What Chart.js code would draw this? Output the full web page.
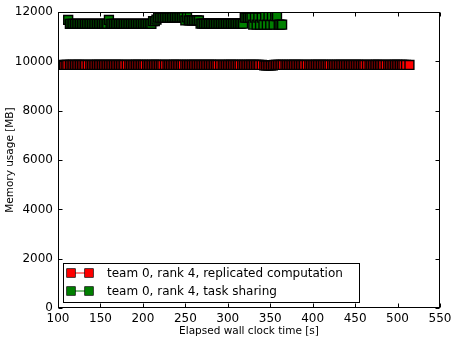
<!DOCTYPE html>
<html>
<head>
<meta charset="utf-8">
<script src="https://cdn.jsdelivr.net/npm/chart.js@4/dist/chart.umd.min.js"></script>
<style>
  html, body { margin: 0; padding: 0; background: #fff; }
</style>
</head>
<body>
<canvas id="chart" width="457" height="343"></canvas>
<script>
// x ticks / y ticks
const xTicks = [100, 150, 200, 250, 300, 350, 400, 450, 500, 550];
const yTicks = [0, 2000, 4000, 6000, 8000, 10000, 12000];

const seriesLabels = [
  "team 0, rank 4, replicated computation",
  "team 0, rank 4, task sharing",
];

// replicated computation: elapsed time [s]
const redTime = [
  107, 109, 111, 114, 116, 118, 120, 122, 124, 126, 128, 130, 132, 135, 138, 140, 142, 144, 146, 148,
  150, 152, 154, 156, 158, 160, 162, 164, 166, 168, 170, 172, 174, 176, 178, 181, 184, 186, 188, 190,
  192, 194, 196, 198, 200, 202, 205, 207, 209, 211, 213, 215, 217, 219, 221, 223, 226, 229, 231, 233,
  235, 237, 239, 241, 243, 245, 247, 250, 252, 254, 256, 258, 260, 262, 264, 266, 268, 270, 272, 274,
  276, 278, 280, 282, 284, 286, 288, 291, 294, 296, 298, 300, 302, 304, 306, 308, 310, 312, 314, 317,
  319, 321, 323, 325, 327, 329, 331, 333, 335, 337, 340, 343, 345, 347, 349, 351, 353, 355, 357, 359,
  361, 363, 365, 368, 370, 372, 374, 376, 378, 380, 382, 384, 386, 388, 390, 393, 396, 398, 400, 402,
  404, 406, 408, 410, 412, 414, 416, 418, 420, 423, 425, 427, 429, 431, 433, 435, 437, 439, 441, 443,
  445, 447, 449, 451, 453, 455, 457, 459, 461, 464, 467, 469, 471, 473, 475, 477, 479, 481, 483, 486,
  489, 491, 493, 495, 497, 499, 501, 503, 505, 507, 510, 514,
];
// replicated computation: memory [MB]
const redMem = [
  9860, 9860, 9860, 9860, 9860, 9860, 9860, 9860, 9860, 9860, 9860, 9860, 9860, 9860, 9860, 9860, 9860, 9860, 9860, 9860,
  9860, 9860, 9860, 9860, 9860, 9860, 9860, 9860, 9860, 9860, 9860, 9860, 9860, 9860, 9860, 9860, 9860, 9860, 9860, 9860,
  9860, 9860, 9860, 9860, 9860, 9860, 9860, 9860, 9860, 9860, 9860, 9860, 9860, 9860, 9860, 9860, 9860, 9860, 9860, 9860,
  9860, 9860, 9860, 9860, 9860, 9860, 9860, 9860, 9860, 9860, 9860, 9860, 9860, 9860, 9860, 9860, 9860, 9860, 9860, 9860,
  9860, 9860, 9860, 9860, 9860, 9860, 9860, 9860, 9860, 9860, 9860, 9860, 9860, 9860, 9860, 9860, 9860, 9860, 9860, 9860,
  9860, 9860, 9860, 9860, 9860, 9860, 9860, 9860, 9860, 9860, 9860, 9840, 9840, 9840, 9840, 9840, 9840, 9860, 9860, 9860,
  9860, 9860, 9860, 9860, 9860, 9860, 9860, 9860, 9860, 9860, 9860, 9860, 9860, 9860, 9860, 9860, 9860, 9860, 9860, 9860,
  9860, 9860, 9860, 9860, 9860, 9860, 9860, 9860, 9860, 9860, 9860, 9860, 9860, 9860, 9860, 9860, 9860, 9860, 9860, 9860,
  9860, 9860, 9860, 9860, 9860, 9860, 9860, 9860, 9860, 9860, 9860, 9860, 9860, 9860, 9860, 9860, 9860, 9860, 9860, 9860,
  9860, 9860, 9860, 9860, 9860, 9860, 9860, 9860, 9860, 9860, 9860, 9860,
];

// task sharing: elapsed time [s]
const greenTime = [
  112, 114, 116, 118, 120, 122, 124, 126, 128, 130, 132, 134, 136, 138, 140, 142, 144, 146, 148, 150,
  152, 154, 156, 158, 160, 162, 164, 166, 168, 170, 172, 174, 176, 178, 180, 182, 184, 186, 188, 190,
  192, 194, 196, 198, 200, 202, 204, 206, 208, 210, 212, 214, 216, 218, 220, 222, 224, 226, 228, 230,
  232, 234, 236, 238, 240, 242, 244, 246, 248, 250, 252, 254, 256, 258, 260, 262, 264, 266, 268, 270,
  272, 274, 276, 278, 280, 282, 284, 286, 288, 290, 292, 294, 296, 298, 300, 302, 304, 306, 308, 310,
  312, 314, 316, 318, 320, 322, 324, 326, 328, 330, 332, 334, 336, 338, 340, 342, 344, 346, 348, 350,
  352, 354, 356, 358, 360, 362, 364,
];
// task sharing: memory [MB]
const greenMem = [
  11685, 11527, 11527, 11527, 11527, 11527, 11527, 11527, 11527, 11527, 11527, 11527, 11527, 11527, 11527, 11527, 11527, 11527, 11527, 11527,
  11527, 11527, 11527, 11527, 11685, 11527, 11527, 11527, 11527, 11527, 11527, 11527, 11527, 11527, 11527, 11527, 11527, 11527, 11527, 11527,
  11527, 11527, 11527, 11527, 11527, 11527, 11527, 11527, 11527, 11527, 11636, 11636, 11700, 11780, 11780, 11780, 11780, 11780, 11780, 11780,
  11780, 11780, 11790, 11790, 11790, 11790, 11790, 11790, 11790, 11665, 11790, 11665, 11665, 11665, 11665, 11665, 11665, 11665, 11535, 11535,
  11535, 11535, 11535, 11535, 11535, 11535, 11535, 11535, 11535, 11535, 11535, 11535, 11535, 11535, 11535, 11535, 11535, 11535, 11535, 11535,
  11535, 11535, 11535, 11535, 11780, 11780, 11780, 11780, 11780, 11495, 11780, 11495, 11780, 11495, 11780, 11495, 11838, 11495, 11838, 11495,
  11838, 11495, 11838, 11838, 11495, 11495, 11495,
];

const FONT = "'DejaVu Sans', sans-serif";
const tickLen = 4;

const toPoints = (xs, ys) => xs.map((x, i) => ({ x: x, y: ys[i] }));

// inward ticks on all four sides + black frame
const framePlugin = {
  id: "frame",
  afterDatasetsDraw(chart) {
    const { ctx, chartArea: a, scales } = chart;
    const l = Math.round(a.left) + 0.5;
    const r = Math.round(a.right) - 0.5;
    const t = Math.round(a.top) + 0.5;
    const b = Math.round(a.bottom) - 0.5;
    ctx.save();
    ctx.strokeStyle = "#000";
    ctx.lineWidth = 1;
    ctx.beginPath();
    xTicks.forEach((v) => {
      const px = Math.round(scales.x.getPixelForValue(v)) + 0.5;
      ctx.moveTo(px, b);
      ctx.lineTo(px, b - tickLen);
      ctx.moveTo(px, t);
      ctx.lineTo(px, t + tickLen);
    });
    yTicks.forEach((v) => {
      const py = Math.round(scales.y.getPixelForValue(v)) + 0.5;
      ctx.moveTo(l, py);
      ctx.lineTo(l + tickLen, py);
      ctx.moveTo(r, py);
      ctx.lineTo(r - tickLen, py);
    });
    ctx.stroke();
    ctx.strokeRect(l, t, r - l, b - t);
    ctx.restore();
  },
};

// legend box, lower left inside the axes
const legendPlugin = {
  id: "boxLegend",
  afterDraw(chart) {
    const { ctx } = chart;
    const box = { x: 63.5, y: 263.5, w: 296, h: 39 };
    ctx.save();
    ctx.fillStyle = "#fff";
    ctx.fillRect(box.x, box.y, box.w, box.h);
    ctx.strokeStyle = "#000";
    ctx.lineWidth = 1;
    ctx.strokeRect(box.x, box.y, box.w, box.h);
    chart.data.datasets.forEach((ds, i) => {
      const cy = 273 + i * 18;
      ctx.strokeStyle = ds.borderColor;
      ctx.lineWidth = 1;
      ctx.beginPath();
      ctx.moveTo(71, cy);
      ctx.lineTo(89, cy);
      ctx.stroke();
      [71, 89].forEach((cx) => {
        ctx.fillStyle = ds.pointBackgroundColor;
        ctx.fillRect(cx - 4.3, cy - 4.3, 8.6, 8.6);
        ctx.strokeStyle = "#000";
        ctx.lineWidth = 0.7;
        ctx.strokeRect(cx - 4.3, cy - 4.3, 8.6, 8.6);
      });
      ctx.fillStyle = "#000";
      ctx.font = "12px " + FONT;
      ctx.textBaseline = "middle";
      ctx.textAlign = "left";
      ctx.fillText(ds.label, 107, cy + 0.5);
    });
    ctx.restore();
  },
};

new Chart(document.getElementById("chart"), {
  type: "scatter",
  data: {
    datasets: [
      {
        label: seriesLabels[0],
        data: toPoints(redTime, redMem),
        showLine: true,
        borderColor: "#ff0000",
        borderWidth: 1,
        pointStyle: "rect",
        pointRadius: 6.3,
        pointBackgroundColor: "#ff0000",
        pointBorderColor: "#000",
        pointBorderWidth: 1.4,
      },
      {
        label: seriesLabels[1],
        data: toPoints(greenTime, greenMem),
        showLine: true,
        borderColor: "#008000",
        borderWidth: 1,
        pointStyle: "rect",
        pointRadius: 6.3,
        pointBackgroundColor: "#008000",
        pointBorderColor: "#000",
        pointBorderWidth: 1.4,
      },
    ],
  },
  options: {
    responsive: false,
    animation: false,
    devicePixelRatio: 1,
    layout: { padding: { top: 11, right: 17, left: 0, bottom: 0 } },
    plugins: {
      legend: { display: false },
      tooltip: { enabled: false },
    },
    scales: {
      x: {
        type: "linear",
        min: 100,
        max: 550,
        afterFit: (scale) => {
          scale.height = 35;
        },
        afterBuildTicks: (scale) => {
          scale.ticks = xTicks.map((v) => ({ value: v }));
        },
        grid: { display: false, drawTicks: false },
        border: { display: false },
        ticks: {
          color: "#000",
          padding: 4,
          maxRotation: 0,
          font: { family: FONT, size: 12 },
          callback: (v) => String(v),
        },
        title: {
          display: true,
          text: "Elapsed wall clock time [s]",
          color: "#000",
          font: { family: FONT, size: 10.5 },
          padding: { top: 0, bottom: 5 },
        },
      },
      y: {
        type: "linear",
        min: 0,
        max: 12000,
        afterFit: (scale) => {
          scale.width = 58;
        },
        afterBuildTicks: (scale) => {
          scale.ticks = yTicks.map((v) => ({ value: v }));
        },
        grid: { display: false, drawTicks: false },
        border: { display: false },
        ticks: {
          color: "#000",
          padding: 5,
          font: { family: FONT, size: 12 },
          callback: (v) => String(v),
        },
        title: {
          display: true,
          text: "Memory usage [MB]",
          color: "#000",
          font: { family: FONT, size: 10.5 },
          padding: { top: 4, bottom: 0 },
        },
      },
    },
  },
  plugins: [framePlugin, legendPlugin],
});
</script>
</body>
</html>
